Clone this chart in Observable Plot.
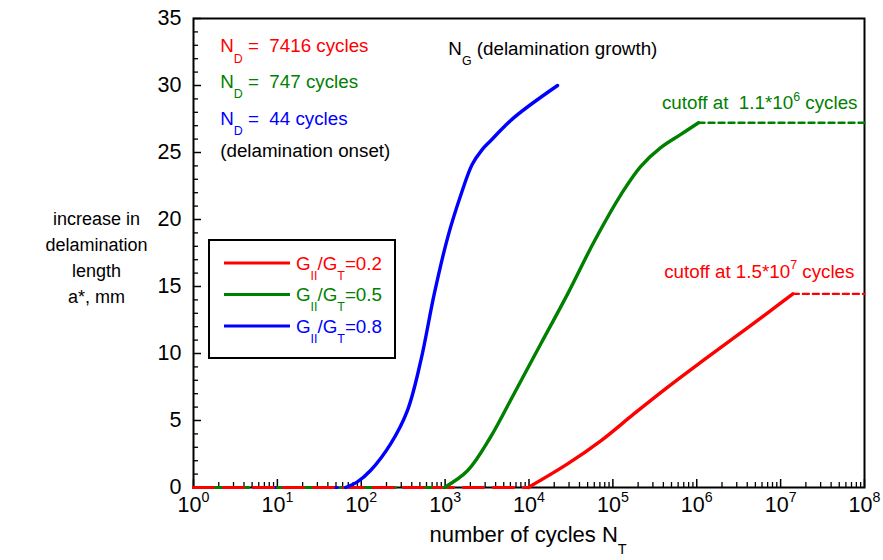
<!DOCTYPE html>
<html><head><meta charset="utf-8">
<script src="https://cdn.jsdelivr.net/npm/d3@7"></script>
<script src="https://cdn.jsdelivr.net/npm/@observablehq/plot@0.6"></script>
<style>
html,body{margin:0;padding:0;background:#fff;}
#wrap{position:relative;width:883px;height:560px;font-family:"Liberation Sans",Arial,Helvetica,sans-serif;}
svg text{white-space:pre;}
</style></head><body><div id="wrap"></div>
<script>
// ---- data ----
const seriesNames = ["G_{II}/G_{T}=0.2", "G_{II}/G_{T}=0.5", "G_{II}/G_{T}=0.8"];
const seriesColors = ["#ff0000", "#008000", "#0000ff"];

// onset cycles (end of the zero baseline) per series
const onsetCycles = [9800, 980, 65];

// G_II/G_T = 0.2 (red)
const cyclesRed = [9800, 28800, 72400, 178000, 447000, 1120000, 2820000, 7080000, 14000000];
const aRed      = [0, 1.76, 3.5, 5.49, 7.47, 9.35, 11.2, 13.05, 14.45];
// G_II/G_T = 0.5 (green)
const cyclesGreen = [980, 1860, 3470, 6610, 13800, 28800, 60300, 126000, 214000, 372000, 646000, 1050000];
const aGreen      = [0, 1.27, 3.75, 6.98, 10.71, 14.43, 18.4, 21.9, 23.95, 25.36, 26.35, 27.22];
// G_II/G_T = 0.8 (blue)
const cyclesBlue = [65, 89, 129, 224, 355, 513, 741, 1072, 1549, 2100, 2750, 3467, 6607, 21900];
const aBlue      = [0, 0.4, 1.27, 3.26, 5.74, 9.46, 14.43, 18.65, 21.88, 24.1, 25.2, 25.86, 27.6, 30.0];

const cutoffEnd = 1e8;
const xMajorTicks = [1, 10, 100, 1e3, 1e4, 1e5, 1e6, 1e7, 1e8];
const yMajorTicks = [0, 5, 10, 15, 20, 25, 30, 35];

const ndTexts = ["N_{D} =  7416 cycles", "N_{D} =  747 cycles", "N_{D} =  44 cycles"];
const onsetText = "(delamination onset)";
const growthText = "N_{G} (delamination growth)";
const cutoffTexts = ["cutoff at 1.5*10^{7} cycles", "cutoff at  1.1*10^{6} cycles"];
const yTitle = "increase in\ndelamination\nlength\na*, mm";
const xTitle = "number of cycles N_{T}";

// ---- build tables ----
const curves = [[cyclesRed, aRed], [cyclesGreen, aGreen], [cyclesBlue, aBlue]];
const growthRows = curves.flatMap(([N, A], i) => N.map((n, j) => ({series: seriesNames[i], N: n, a: A[j]})));
const baseRows = i => [{series: seriesNames[i], N: 1, a: 0}, {series: seriesNames[i], N: onsetCycles[i], a: 0}];
const cutRows = i => {
  const [N, A] = curves[i];
  return [{series: seriesNames[i], N: N[N.length - 1], a: A[A.length - 1]}, {series: seriesNames[i], N: cutoffEnd, a: A[A.length - 1]}];
};
const xMinorTicks = [];
for (let k = 0; k < 8; k++) for (let m = 2; m <= 9; m++) xMinorTicks.push(m * 10 ** k);
const yMinorTicks = d3.range(0, 36).filter(v => v % 5 !== 0);

const dashes = ["20,10", "13,8", "9,6"];
const FONT = '"Liberation Sans", Arial, Helvetica, sans-serif';
const AF = 18.8; // annotation font size

const plot = Plot.plot({
  width: 883, height: 560,
  marginLeft: 193, marginRight: 19, marginTop: 18, marginBottom: 73,
  style: {fontFamily: FONT, fontSize: "18px", background: "white", overflow: "visible"},
  x: {type: "log", domain: [1, 1e8]},
  y: {domain: [0, 35]},
  color: {domain: seriesNames, range: seriesColors},
  marks: [
    Plot.axisX({ticks: xMinorTicks, tickSize: -5, tickFormat: () => "", label: null, strokeWidth: 1.3}),
    Plot.axisX({ticks: xMajorTicks, tickSize: -8, tickFormat: () => "", label: null, strokeWidth: 1.5}),
    Plot.axisY({ticks: yMinorTicks, tickSize: -5, tickFormat: () => "", label: null, strokeWidth: 1.3}),
    Plot.axisY({ticks: yMajorTicks, tickSize: 0, tickPadding: 0, tickFormat: () => "", label: null}),
    Plot.axisY({ticks: yMajorTicks, tickSize: -8, tickFormat: () => "", label: null, strokeWidth: 1.5}),
    Plot.axisY({ticks: yMajorTicks, tickSize: 0, tickPadding: 12, fontSize: 21.5, label: null, tickFormat: d => String(d)}),
    Plot.text(xMajorTicks, {x: d => d, text: d => `10^{${Math.round(Math.log10(d))}}`, frameAnchor: "bottom", dy: 24, fontSize: 21.5, fill: "black"}),
    Plot.frame({stroke: "black", strokeWidth: 2}),
    // zero baselines before onset (dashed)
    ...[2, 1, 0].map(i => Plot.line(baseRows(i), {x: "N", y: "a", stroke: "series", strokeWidth: 3.2, strokeDasharray: dashes[i]})),
    // growth curves
    Plot.line(growthRows, {x: "N", y: "a", z: "series", stroke: "series", strokeWidth: 3.4, curve: "catmull-rom"}),
    // cutoff extensions
    ...[0, 1].map(i => Plot.line(cutRows(i), {x: "N", y: "a", stroke: "series", strokeWidth: 2.4, strokeDasharray: "6,4"})),
    // annotations
    Plot.text([ndTexts[0]], {x: 2.08, y: 32.92, textAnchor: "start", fontSize: AF, fill: seriesColors[0]}),
    Plot.text([ndTexts[1]], {x: 2.08, y: 30.26, textAnchor: "start", fontSize: AF, fill: seriesColors[1]}),
    Plot.text([ndTexts[2]], {x: 2.08, y: 27.52, textAnchor: "start", fontSize: AF, fill: seriesColors[2]}),
    Plot.text([onsetText], {x: 2.08, y: 25.13, textAnchor: "start", fontSize: AF, fill: "black"}),
    Plot.text([growthText], {x: 1091, y: 32.75, textAnchor: "start", fontSize: AF, fill: "black"}),
    Plot.text([cutoffTexts[1]], {x: 8.25e7, y: 28.69, textAnchor: "end", fontSize: AF, fill: seriesColors[1]}),
    Plot.text([cutoffTexts[0]], {x: 7.59e7, y: 16.11, textAnchor: "end", fontSize: AF, fill: seriesColors[0]}),
    // axis titles
    Plot.text([yTitle], {frameAnchor: "left", dx: -97, dy: 2.5, lineHeight: 1.444, textAnchor: "middle", fontSize: 18, fill: "black"}),
    Plot.text([xTitle], {frameAnchor: "bottom-left", dx: 236, dy: 54, textAnchor: "start", fontSize: 22, fill: "black"})
  ]
});

const wrap = document.getElementById("wrap");
wrap.appendChild(plot);

// legend (drawn from the series arrays)
const leg = d3.select(wrap).append("svg")
  .attr("width", 188).attr("height", 120)
  .style("position", "absolute").style("left", "208px").style("top", "239px")
  .style("font-family", FONT);
leg.append("rect").attr("x", 1).attr("y", 1).attr("width", 186).attr("height", 118)
  .attr("fill", "white").attr("stroke", "black").attr("stroke-width", 2);
seriesNames.forEach((name, i) => {
  const y = 24 + 31.5 * i;
  leg.append("line").attr("x1", 16).attr("x2", 82).attr("y1", y).attr("y2", y)
    .attr("stroke", seriesColors[i]).attr("stroke-width", 3);
  leg.append("text").attr("x", 88).attr("y", y + 6.5).attr("fill", seriesColors[i])
    .attr("font-size", AF).text(name);
});

// turn _{..} and ^{..} into sub/superscript tspans
function richify(root) {
  root.querySelectorAll("text").forEach(el => {
    if (el.querySelector("tspan")) return;
    const s = el.textContent;
    if (!/[_^]\{/.test(s)) return;
    const fs = parseFloat(getComputedStyle(el).fontSize);
    el.textContent = "";
    const re = /([_^])\{([^}]*)\}/g;
    let last = 0, m, cur = 0;
    const push = (txt, kind) => {
      if (!txt) return;
      const t = document.createElementNS("http://www.w3.org/2000/svg", "tspan");
      const target = kind === "_" ? 0.55 * fs : kind === "^" ? -0.45 * fs : 0;
      if (target !== cur) { t.setAttribute("dy", (target - cur).toFixed(2)); cur = target; }
      if (kind) t.setAttribute("font-size", (0.66 * fs).toFixed(1));
      t.textContent = txt;
      el.appendChild(t);
    };
    while ((m = re.exec(s))) { push(s.slice(last, m.index)); push(m[2], m[1]); last = re.lastIndex; }
    push(s.slice(last));
  });
}
richify(wrap);
</script></body></html>
